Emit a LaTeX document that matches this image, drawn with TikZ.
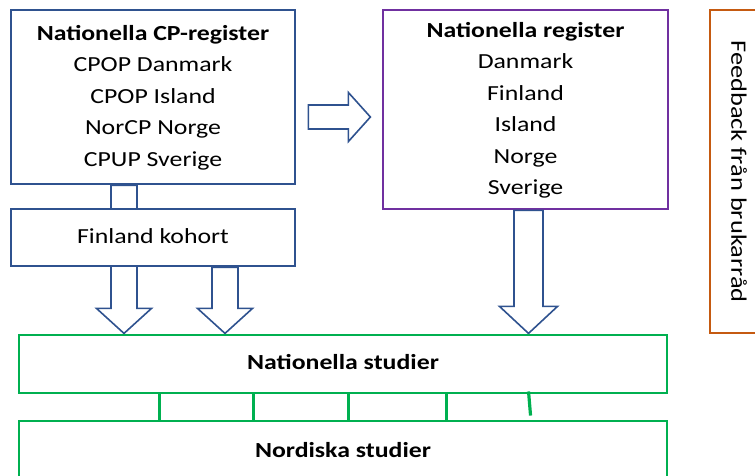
\documentclass[tikz,border=0pt]{standalone}
\usepackage{fontspec}
\setmainfont[FakeStretch=1.2]{Carlito}
\usetikzlibrary{positioning}

\definecolor{regblue}{HTML}{2F528F}
\definecolor{regpurple}{HTML}{7030A0}
\definecolor{studgreen}{HTML}{00B050}
\definecolor{fbbrown}{HTML}{C55A11}

\tikzset{
  regbox/.style={draw=regblue, line width=2.8pt, fill=white, align=center,
    font=\fontsize{21.5}{31.5}\selectfont},
  studbox/.style={draw=studgreen, line width=2.9pt, minimum width=648pt,
    font=\fontsize{21.5}{26}\selectfont\bfseries},
  fbbox/.style={draw=fbbrown, line width=2.8pt, font=\fontsize{22}{26}\selectfont},
  blockarr/.style={draw=regblue, line width=1.6pt, fill=white, line join=miter},
  studlink/.style={studgreen, line width=3.2pt},
}

% text block lowered a little inside its box
\newcommand{\lowtext}[2]{\raisebox{-#1pt}{\begin{tabular}{@{}c@{}}#2\end{tabular}}}

% down arrow: start, length, half shaft, half head, head length
\newcommand{\downarr}[5]{%
  \draw[blockarr] #1 ++(-#3,0) -- ++(2*#3,0) -- ++(0,#2-#5) -- ++(#4-#3,0)
    -- ++(-#4,#5) -- ++(-#4,-#5) -- ++(#4-#3,0) -- cycle;}

\begin{document}
\begin{tikzpicture}[x=1pt,y=-1pt]
  \useasboundingbox (0,0) rectangle (755,475);

  % registers
  \node[regbox, minimum width=284pt, minimum height=174pt] (cp) at (153,97)
    {\lowtext{3}{\textbf{Nationella CP-register}\\CPOP Danmark\\CPOP Island\\NorCP Norge\\CPUP Sverige}};
  \node[regbox, draw=regpurple, minimum width=285pt, minimum height=199pt] (nr) at (525.5,109.5)
    {\lowtext{2}{\textbf{Nationella register}\\Danmark\\Finland\\Island\\Norge\\Sverige}};

  \downarr{([xshift=-29pt]cp.south)}{148}{13}{27.5}{25}
  \node[regbox, minimum width=284pt, minimum height=57pt] (fk) at (153,237.5)
    {\lowtext{0.5}{Finland kohort}};
  \downarr{([xshift=72pt]fk.south)}{66}{13}{27.5}{25}
  \downarr{([xshift=3pt]nr.south)}{123}{14.5}{29}{27}

  % arrow between the registers
  \draw[blockarr] ([xshift=12pt,yshift=-8pt]cp.east) -- ++(40,0) -- ++(0,-12.5)
    -- ++(22,24.5) -- ++(-22,24.5) -- ++(0,-12.5) -- ++(-40,0) -- cycle;

  % studies
  \node[studbox, minimum height=58pt] (ns) at (343,364) {\lowtext{3.5}{Nationella studier}};
  \node[studbox, minimum height=62pt] (nd) at (343,452) {\lowtext{1.5}{Nordiska studier}};
  \foreach \dx in {142,236,331,429}
    \draw[studlink] ([xshift=\dx pt]ns.south west) -- ([xshift=\dx pt]nd.north west);
  \draw[studlink] ([xshift=511pt,yshift=3pt]ns.south west) -- ([xshift=513pt,yshift=4pt]nd.north west);

  % feedback
  \node[fbbox, rotate=-90, minimum width=323pt, minimum height=53pt] (fb) at (736.5,171.5)
    {\lowtext{4}{Feedback från brukarråd}};
\end{tikzpicture}
\end{document}
